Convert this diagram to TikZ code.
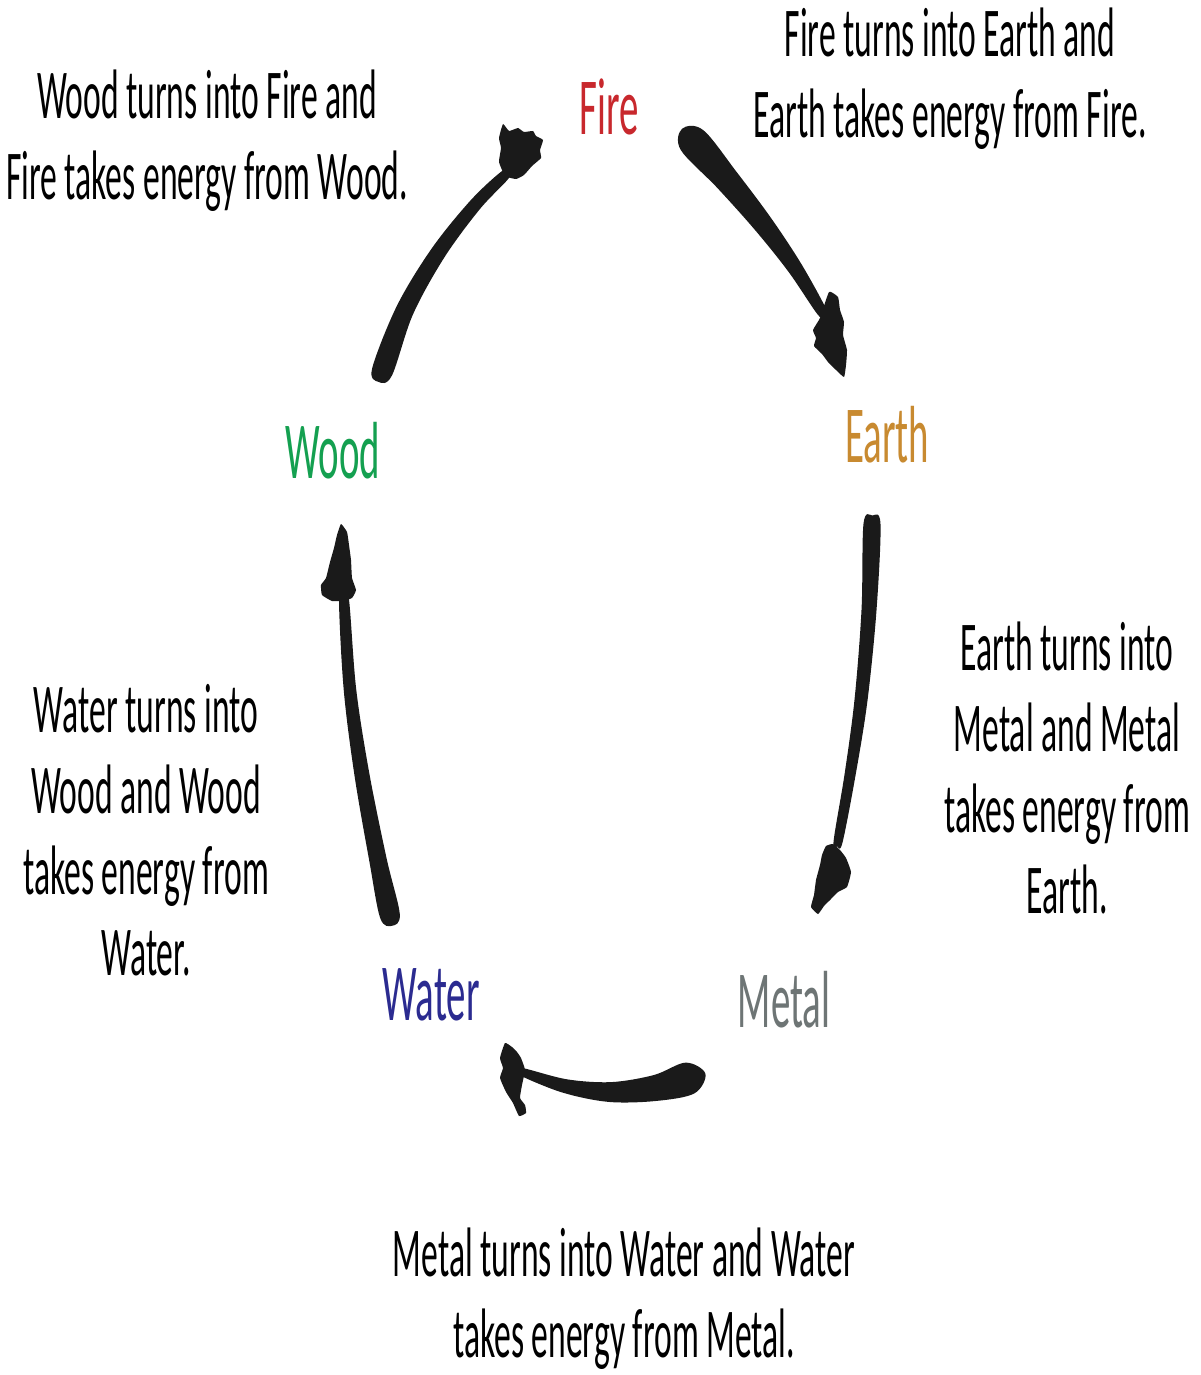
\documentclass[tikz,border=0pt]{standalone}
\usepackage{fontspec}
\setmainfont{Carlito}
\newfontfamily\lblfont[FakeStretch=0.48]{Carlito}
\usetikzlibrary{calc}
\definecolor{fireC}{HTML}{C8282D}
\definecolor{earthC}{HTML}{C88A30}
\definecolor{woodC}{HTML}{14A050}
\definecolor{waterC}{HTML}{2B2B90}
\definecolor{metalC}{HTML}{6E7575}
\definecolor{ink}{HTML}{1A1A1A}
\newcommand\brushstroke[8]{%
  \coordinate (#1p0) at #2;
  \coordinate (#1p1) at #3;
  \coordinate (#1p2) at #4;
  \coordinate (#1p3) at #5;
  \coordinate (#1p4) at #6;
  \pgfmathsetmacro\bsh{#7}
  \pgfmathsetmacro\bsd{(#8-#7)/4}
  \coordinate (#1t) at ($(#1p0)!\bsh pt!180:(#1p1)$);
  \coordinate (#1a0) at ($(#1p0)!\bsh pt!90:(#1p1)$);
  \coordinate (#1b0) at ($(#1p0)!\bsh pt!-90:(#1p1)$);
  \pgfmathsetmacro\bsh{#7+\bsd}
  \coordinate (#1a1) at ($(#1p1)!\bsh pt!90:(#1p2)$);
  \coordinate (#1b1) at ($(#1p1)!\bsh pt!-90:(#1p2)$);
  \pgfmathsetmacro\bsh{#7+2*\bsd}
  \coordinate (#1a2) at ($(#1p2)!\bsh pt!90:(#1p3)$);
  \coordinate (#1b2) at ($(#1p2)!\bsh pt!-90:(#1p3)$);
  \pgfmathsetmacro\bsh{#7+3*\bsd}
  \coordinate (#1a3) at ($(#1p3)!\bsh pt!90:(#1p4)$);
  \coordinate (#1b3) at ($(#1p3)!\bsh pt!-90:(#1p4)$);
  \pgfmathsetmacro\bsh{#8}
  \coordinate (#1a4) at ($(#1p4)!\bsh pt!-90:(#1p3)$);
  \coordinate (#1b4) at ($(#1p4)!\bsh pt!90:(#1p3)$);
  \coordinate (#1e) at ($(#1p4)!\bsh pt!180:(#1p3)$);
  \fill[ink] plot[smooth cycle, tension=0.55] coordinates {(#1t)(#1a0)(#1a1)(#1a2)(#1a3)(#1a4)(#1e)(#1b4)(#1b3)(#1b2)(#1b1)(#1b0)};
}
\tikzset{
  elem/.style={font=\lblfont\fontsize{81}{92}\selectfont, anchor=base, inner sep=0pt},
  body/.style={font=\lblfont\fontsize{70}{81}\selectfont, align=center, anchor=base, inner sep=0pt},
  blob/.style={fill=ink}
}
\begin{document}
\begin{tikzpicture}[x=1pt,y=-1pt]
\useasboundingbox[fill=white] (0,0) rectangle (1201,1375);
% element labels
\node[elem, text=fireC]  (fire)  at (609,135)  {Fire};
\node[elem, text=earthC] (earth) at (887,462)  {Earth};
\node[elem, text=woodC]  (wood)  at (333,478)  {Wood};
\node[elem, text=waterC] (water) at (431,1020) {Water};
\node[elem, text=metalC] (metal) at (784,1027) {Metal};
% descriptions (anchor = baseline of last line)
\node[body] (tl) at (207,200) {Wood turns into Fire and\\Fire takes energy from Wood.};
\node[body] (tr) at (950,138) {Fire turns into Earth and\\Earth takes energy from Fire.};
\node[body] (rt) at (1067,913) {Earth turns into\\Metal and Metal\\takes energy from\\Earth.};
\node[body] (lf) at (146,975) {Water turns into\\Wood and Wood\\takes energy from\\Water.};
\node[body] (bt) at (624,1357) {Metal turns into Water and Water\\takes energy from Metal.};
% brush strokes
% Wood -> Fire
\brushstroke{s1}{(382,372)}{(405,310)}{(438,253)}{(475,205)}{(505,175)}{10.5}{5}
\fill[blob] plot[smooth cycle, tension=0.25] coordinates {(503,124)(509,131)(518,128)(524,132)(533,131)(536,136)(543,140)(540,150)(541,158)(532,166)(524,175)(516,179)(505,176)(499,162)(501,148)(499,138)};
% Fire -> Earth
\brushstroke{s2}{(692,140)}{(727,180)}{(763,224)}{(795,268)}{(822,312)}{15}{5}
\fill[blob] plot[smooth cycle, tension=0.25] coordinates {(829,292)(838,297)(840,310)(844,322)(843,335)(847,350)(846,365)(844,377)(836,370)(828,362)(822,354)(814,346)(816,338)(813,330)(820,318)};
% Earth -> Metal
\brushstroke{s3}{(872,524)}{(869,610)}{(861,700)}{(850,775)}{(838,842)}{8.5}{4.5}
\fill[blob] plot[smooth cycle, tension=0.25] coordinates {(826,846)(833,844)(840,850)(846,858)(851,872)(847,887)(838,892)(830,900)(824,906)(818,914)(811,907)(814,895)(816,880)(820,865)(822,855)};
% Metal -> Water
\brushstroke{s4}{(690,1078)}{(655,1088)}{(610,1092)}{(565,1086)}{(522,1072)}{16}{4}
\fill[blob] plot[smooth cycle, tension=0.25] coordinates {(505,1043)(512,1047)(517,1052)(521,1058)(525,1070)(522,1085)(520,1098)(525,1105)(526,1113)(519,1116)(513,1103)(506,1092)(500,1078)(503,1068)(500,1058)};
% Water -> Wood
\brushstroke{s5}{(390,916)}{(378,860)}{(362,775)}{(350,690)}{(344,600)}{10}{5}
\fill[blob] plot[smooth cycle, tension=0.25] coordinates {(341,524)(347,532)(349,545)(351,560)(352,578)(356,590)(352,598)(343,601)(332,601)(322,595)(321,585)(326,578)(330,562)(334,548)(337,535)};
\end{tikzpicture}
\end{document}
